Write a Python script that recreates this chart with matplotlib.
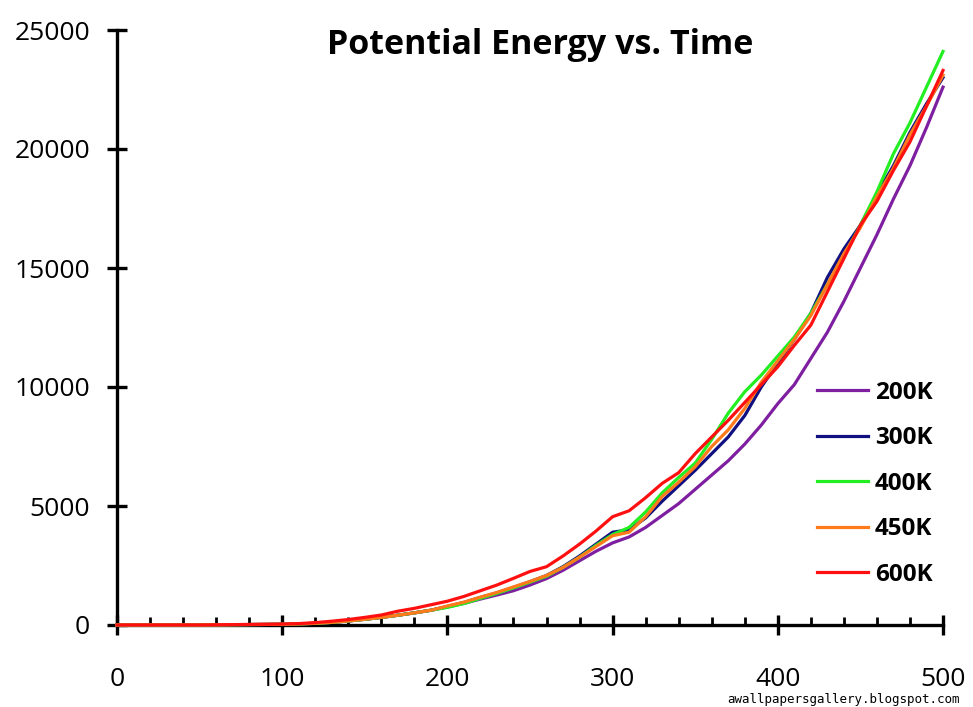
import matplotlib
matplotlib.use("Agg")
import matplotlib.pyplot as plt
from matplotlib.ticker import MultipleLocator

# ---- data ----
time = [0, 50, 100, 110, 120, 130, 140, 150, 160, 170, 180, 190,
        200, 210, 220, 230, 240, 250, 260, 270, 280, 290,
        300, 310, 320, 330, 340, 350, 360, 370, 380, 390,
        400, 410, 420, 430, 440, 450, 460, 470, 480, 490, 500]

e_200K = [0, 0, 30, 45, 70, 110, 170, 240, 320, 410, 510, 620,
          760, 910, 1090, 1260, 1440, 1680, 1950, 2300, 2700, 3100,
          3450, 3700, 4100, 4600, 5100, 5700, 6300, 6900, 7600, 8400,
          9300, 10100, 11200, 12300, 13600, 15000, 16400, 17900, 19300, 20900, 22600]

e_300K = [0, 0, 30, 45, 70, 110, 170, 240, 320, 410, 510, 620,
          780, 950, 1160, 1350, 1580, 1820, 2080, 2450, 2900, 3400,
          3900, 4000, 4500, 5200, 5850, 6500, 7200, 7900, 8800, 10000,
          11000, 12000, 13100, 14600, 15800, 16800, 18100, 19300, 20700, 21900, 23000]

e_400K = [0, 0, 30, 45, 70, 110, 170, 240, 320, 410, 510, 620,
          740, 900, 1120, 1330, 1560, 1800, 2050, 2420, 2850, 3350,
          3800, 4100, 4750, 5550, 6200, 6800, 7800, 8900, 9800, 10500,
          11300, 12100, 13100, 14300, 15500, 16800, 18200, 19800, 21100, 22600, 24100]

e_450K = [0, 0, 30, 45, 70, 110, 170, 240, 320, 410, 510, 620,
          800, 960, 1170, 1370, 1600, 1830, 2080, 2420, 2850, 3300,
          3750, 3900, 4550, 5400, 6000, 6650, 7500, 8200, 9100, 10200,
          11100, 12000, 13000, 14300, 15600, 16700, 18000, 19200, 20600, 21800, 23100]

e_600K = [0, 0, 40, 60, 100, 160, 230, 320, 420, 580, 700, 850,
          1000, 1200, 1440, 1680, 1960, 2250, 2450, 2900, 3400, 3950,
          4550, 4800, 5350, 5950, 6400, 7200, 7900, 8600, 9350, 10100,
          10850, 11750, 12600, 14000, 15400, 16800, 17800, 19100, 20300, 21800, 23300]

labels = ["200K", "300K", "400K", "450K", "600K"]
colors = ["#7E1EA0", "#101080", "#22EE22", "#FF7A1A", "#FF1010"]
series = [e_200K, e_300K, e_400K, e_450K, e_600K]

x_ticks = [0, 100, 200, 300, 400, 500]
y_ticks = [0, 5000, 10000, 15000, 20000, 25000]

# ---- figure ----
W, H = 973, 707
fig = plt.figure(figsize=(W / 100, H / 100), dpi=100)
ax = fig.add_axes([117 / W, (H - 625) / H, (943 - 117) / W, (625 - 30) / H])

for s, lab, c in zip(series, labels, colors):
    ax.plot(time, s, color=c, lw=2.3, label=lab, clip_on=False, zorder=3,
            solid_joinstyle="round")

ax.set_xlim(0, 500)
ax.set_ylim(0, 25000)
ax.set_xticks(x_ticks)
ax.set_yticks(y_ticks)
ax.xaxis.set_minor_locator(MultipleLocator(20))

for sp in ["top", "right"]:
    ax.spines[sp].set_visible(False)
for sp in ["left", "bottom"]:
    ax.spines[sp].set_linewidth(2.4)
    ax.spines[sp].set_color("black")

ax.tick_params(axis="both", which="major", direction="inout", length=15,
               width=2.4, color="black")
ax.tick_params(axis="x", which="minor", direction="in", length=6, width=2.0)
ax.tick_params(axis="x", which="major", pad=23)
ax.tick_params(axis="y", which="major", pad=12)
for lab in ax.get_xticklabels() + ax.get_yticklabels():
    lab.set_fontfamily("Open Sans")
    lab.set_fontsize(19)

fig.text(540 / W, 1 - 45 / H, "Potential Energy vs. Time", ha="center", va="center",
         fontfamily="Open Sans", fontweight="bold", fontsize=24.5)

ax.legend(loc="upper left", bbox_to_anchor=(817 / W, 1 - 381 / H),
          bbox_transform=fig.transFigure, frameon=False,
          prop=dict(family="Open Sans", weight="bold", size=17.5),
          handlelength=2.1, handletextpad=0.28, labelspacing=0.88,
          borderpad=0, borderaxespad=0)

fig.text(960 / W, 1 - 699 / H, "awallpapersgallery.blogspot.com", ha="right",
         va="center", fontfamily="DejaVu Sans Mono", fontsize=9, color="black")

fig.savefig("out.png", dpi=100)
